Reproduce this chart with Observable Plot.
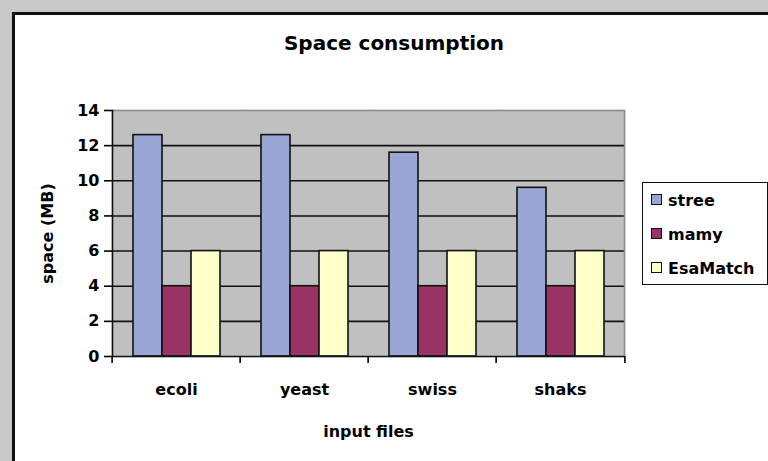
<!DOCTYPE html>
<html>
<head>
<meta charset="utf-8">
<script src="https://cdn.jsdelivr.net/npm/d3@7"></script>
<script src="https://cdn.jsdelivr.net/npm/@observablehq/plot@0.6"></script>
<style>
  html, body { margin: 0; padding: 0; }
  body { width: 768px; height: 461px; overflow: hidden; background: #c8c8c8; position: relative;
         font-family: "DejaVu Sans", "Liberation Sans", Arial, sans-serif; font-weight: bold; color: #000; }
  #sheet { position: absolute; left: 12px; top: 12px; right: 0; bottom: 0; background: #fff;
           border-top: 3px solid #111; border-left: 3px solid #111; box-sizing: border-box; }
  #title { position: absolute; left: 0; top: 31px; width: 788px; text-align: center; font-size: 20px; }
  #chart { position: absolute; left: 0; top: 0; }
  #legend { position: absolute; left: 642px; top: 182px; width: 126px; height: 103px;
            border: 1.5px solid #111; box-sizing: border-box; background: #fff; }
  .row { position: absolute; left: 8px; font-size: 16px; line-height: 20px; white-space: nowrap; }
  .sw { display: inline-block; width: 9px; height: 9px; border: 1.5px solid #111; margin-right: 6px; vertical-align: 1px; }
</style>
</head>
<body>
<div id="sheet"></div>
<div id="title">Space consumption</div>
<div id="chart"></div>
<div id="legend"></div>
<script>
// ---- data ----
const files = ["ecoli", "yeast", "swiss", "shaks"];
const series = ["stree", "mamy", "EsaMatch"];
const stree = [12.6, 12.6, 11.6, 9.6];
const mamy = [4, 4, 4, 4];
const esaMatch = [6, 6, 6, 6];
const colors = ["#9aa6d6", "#993366", "#ffffcc"];
const yTicks = [0, 2, 4, 6, 8, 10, 12, 14];
const yLabel = "space (MB)";
const xLabel = "input files";

const values = [stree, mamy, esaMatch];
const rows = files.flatMap((f, i) => series.map((s, j) => ({file: f, series: s, value: values[j][i]})));

const W = 640, H = 461, mL = 110, mR = 15, mT = 110, mB = 105;
const half = (W - mL - mR) / files.length / 2;

const chart = Plot.plot({
  width: W, height: H,
  marginLeft: mL, marginRight: mR, marginTop: mT, marginBottom: mB,
  style: {background: "transparent", fontFamily: "'DejaVu Sans', 'Liberation Sans', Arial, sans-serif", fontSize: "16px", fontWeight: "bold", color: "#000"},
  fx: {domain: files, padding: 0},
  x: {domain: series, paddingInner: 0, paddingOuter: 0.7, axis: null},
  y: {domain: [0, 14]},
  color: {domain: series, range: colors},
  marks: [
    Plot.frame({fill: "#c0c0c0", stroke: "#c0c0c0", strokeWidth: 1.5}),
    Plot.ruleY(yTicks.filter(t => t > 0 && t < 14), {stroke: "#111", strokeWidth: 1.6}),
    Plot.ruleY([14], {stroke: "#8a8a8a", strokeWidth: 1.5}),
    Plot.frame({anchor: "right", facetAnchor: "right", stroke: "#8a8a8a", strokeWidth: 1.5}),
    Plot.barY(rows, {fx: "file", x: "series", y: "value", fill: "series", stroke: "#111", strokeWidth: 1.6}),
    Plot.ruleY([0], {stroke: "#111", strokeWidth: 1.6}),
    Plot.frame({anchor: "left", facetAnchor: "left", stroke: "#111", strokeWidth: 1.6}),
    Plot.axisY({ticks: yTicks, tickSize: 8, tickPadding: 5, strokeWidth: 1.6, fontSize: 16,
                label: yLabel, labelArrow: false, labelAnchor: "center", labelOffset: 71, fontWeight: "bold"}),
    Plot.axisFx({anchor: "bottom", tickSize: 0, tickPadding: 27, fontSize: 16, label: xLabel, labelArrow: false,
                 labelAnchor: "center", labelOffset: 80, fontWeight: "bold"}),
    Plot.axisFx({anchor: "bottom", text: null, tickSize: 7, dx: -half, strokeWidth: 1.6, label: null}),
    Plot.axisFx({anchor: "bottom", ticks: [files[files.length - 1]], text: null, tickSize: 7, dx: half, strokeWidth: 1.6, label: null})
  ]
});
document.getElementById("chart").appendChild(chart);

// legend
const legend = document.getElementById("legend");
series.forEach((s, i) => {
  const r = document.createElement("div");
  r.className = "row";
  r.style.top = (8 + i * 34) + "px";
  const sw = document.createElement("span");
  sw.className = "sw";
  sw.style.background = colors[i];
  r.appendChild(sw);
  r.appendChild(document.createTextNode(s));
  legend.appendChild(r);
});
</script>
</body>
</html>
